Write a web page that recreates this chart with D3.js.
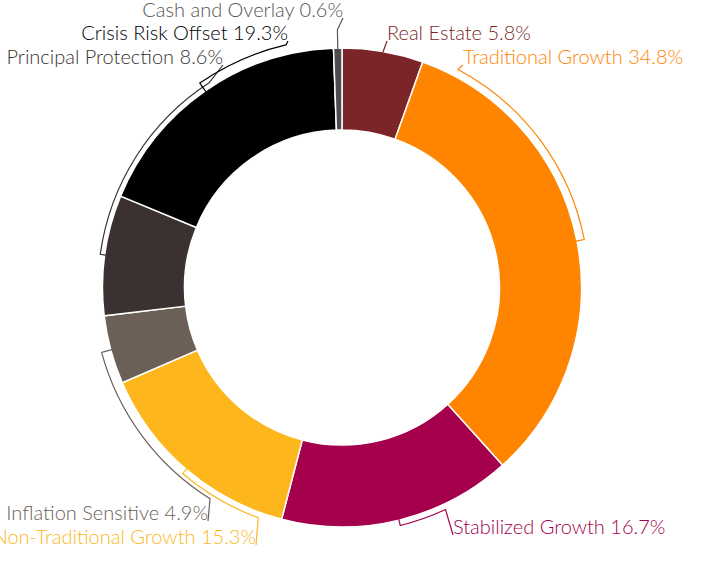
<!DOCTYPE html>
<html>
<head>
<meta charset="utf-8">
<script src="https://cdn.jsdelivr.net/npm/d3@7"></script>
<style>
  html, body { margin: 0; padding: 0; background: #fff; }
  svg { display: block; }
  text { font-family: Lato, "Open Sans", sans-serif; font-size: 20px; font-weight: 300; }
</style>
</head>
<body>
<div id="chart"></div>
<script>
// Allocation categories, clockwise from 12 o'clock
const categories = [
    "Real Estate",
    "Traditional Growth",
    "Stabilized Growth",
    "Non-Traditional Growth",
    "Inflation Sensitive",
    "Principal Protection",
    "Crisis Risk Offset",
    "Cash and Overlay"
];
const percents = [5.8, 34.8, 16.7, 15.3, 4.9, 8.6, 19.3, 0.6];
const sliceColors = ["#7b2528", "#ff8500", "#a5004b", "#fdb71d", "#6c6056", "#3b3130", "#000000", "#4d4d4d"];
const labelColors = ["#7b2528", "#ff8500", "#a5004b", "#fdb71d", "#6c6056", "#3b3130", "#000000", "#555555"];

// Label layout: where each bracket ends (degrees), its radius, and where the text sits
const labelLayout = [
    { endAngle: null, bracketR: 0,   x: 387, y: 40,  anchor: "start" },
    { endAngle: 28,   bracketR: 247, x: 463, y: 64,  anchor: "start" },
    { endAngle: 155,  bracketR: 245, x: 453, y: 534, anchor: "start" },
    { endAngle: 200,  bracketR: 245, x: 256, y: 544, anchor: "end" },
    { endAngle: 212,  bracketR: 249, x: 208, y: 520, anchor: "end" },
    { endAngle: 327,  bracketR: 244, x: 223, y: 64,  anchor: "end" },
    { endAngle: 347,  bracketR: 249, x: 288, y: 40,  anchor: "end" },
    { endAngle: null, bracketR: 258, x: 343, y: 17,  anchor: "end" }
];

const width = 707, height = 575;
const cx = 342, cy = 287.5;
const outerR = 239.5, innerR = 157.5;

const svg = d3.select("#chart").append("svg")
    .attr("width", width)
    .attr("height", height);

const g = svg.append("g")
    .attr("transform", `translate(${cx},${cy})`);

const data = categories.map((name, i) => ({ name, value: percents[i], i }));

const pie = d3.pie()
    .value(d => d.value)
    .sort(null);

const arcs = pie(data);

const arc = d3.arc()
    .innerRadius(innerR)
    .outerRadius(outerR);

// Slices
g.selectAll("path.slice")
    .data(arcs)
    .enter()
    .append("path")
    .attr("class", "slice")
    .attr("d", arc)
    .attr("fill", d => sliceColors[d.data.i])
    .attr("stroke", "#fff")
    .attr("stroke-width", 1.5);

// polar helper: angle in radians measured clockwise from 12 o'clock
function polar(r, a) {
    return [r * Math.sin(a), -r * Math.cos(a)];
}
const rad = deg => deg * Math.PI / 180;

// Bracket connectors
g.selectAll("path.bracket")
    .data(arcs)
    .enter()
    .append("path")
    .attr("class", "bracket")
    .attr("fill", "none")
    .attr("stroke", d => labelColors[d.data.i])
    .attr("stroke-width", 1.2)
    .attr("d", d => {
        const lay = labelLayout[d.data.i];
        const mid = (d.startAngle + d.endAngle) / 2;
        const p = d3.path();
        const [x0, y0] = polar(outerR - 1, mid);
        p.moveTo(x0, y0);
        if (lay.endAngle === null) {
            if (lay.bracketR) {
                const [x1, y1] = polar(lay.bracketR, mid);
                p.lineTo(x1, y1);
            }
        } else {
            const [x1, y1] = polar(lay.bracketR, mid);
            p.lineTo(x1, y1);
            const end = rad(lay.endAngle);
            p.arc(0, 0, lay.bracketR, mid - Math.PI / 2, end - Math.PI / 2, end < mid);
        }
        p.lineTo(lay.x - cx, lay.y - cy + 1);
        return p.toString();
    });

// Labels
svg.selectAll("text.label")
    .data(arcs)
    .enter()
    .append("text")
    .attr("class", "label")
    .attr("x", d => labelLayout[d.data.i].x)
    .attr("y", d => labelLayout[d.data.i].y)
    .attr("text-anchor", d => labelLayout[d.data.i].anchor)
    .attr("fill", d => labelColors[d.data.i])
    .text(d => `${d.data.name} ${d.data.value}%`);
</script>
</body>
</html>
